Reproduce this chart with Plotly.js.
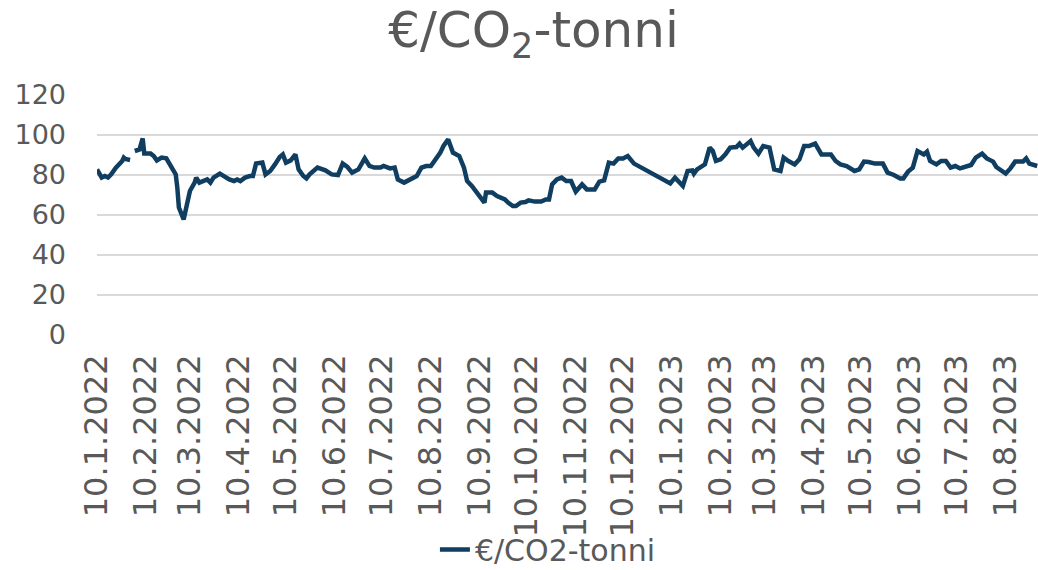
<!DOCTYPE html>
<html>
<head>
<meta charset="utf-8">
<script src="https://cdn.plot.ly/plotly-3.0.1.min.js"></script>
<style>html,body{margin:0;padding:0;background:#fff;}#chart{width:1038px;height:570px;}</style>
</head>
<body>
<div id="chart"></div>
<script>
const seriesName = "€/CO2-tonni";
const chartTitle = "€/CO<sub>2</sub>-tonni";

const dates = [
"2022-01-10","2022-01-13","2022-01-15","2022-01-17","2022-01-19","2022-01-22","2022-01-26","2022-01-27","2022-01-28","2022-01-31",
"2022-02-02","2022-02-03","2022-02-06","2022-02-08","2022-02-09","2022-02-13","2022-02-15","2022-02-17","2022-02-20","2022-02-23",
"2022-02-25","2022-03-01","2022-03-02","2022-03-03","2022-03-06","2022-03-08","2022-03-10","2022-03-13","2022-03-14","2022-03-16",
"2022-03-19","2022-03-21","2022-03-23","2022-03-25","2022-03-29","2022-04-01","2022-04-04","2022-04-07","2022-04-09","2022-04-11",
"2022-04-14","2022-04-17","2022-04-19","2022-04-21","2022-04-25","2022-04-27","2022-04-30","2022-05-03","2022-05-06","2022-05-08",
"2022-05-10","2022-05-13","2022-05-16","2022-05-18","2022-05-21","2022-05-23","2022-05-25","2022-05-30","2022-06-04","2022-06-08",
"2022-06-12","2022-06-15","2022-06-18","2022-06-21","2022-06-25","2022-06-29","2022-07-02","2022-07-05","2022-07-09","2022-07-11",
"2022-07-15","2022-07-18","2022-07-20","2022-07-24","2022-07-27","2022-08-01","2022-08-04","2022-08-07","2022-08-10","2022-08-13",
"2022-08-16","2022-08-18","2022-08-21","2022-08-24","2022-08-28","2022-08-31","2022-09-02","2022-09-05","2022-09-09","2022-09-13",
"2022-09-14","2022-09-18","2022-09-21","2022-09-26","2022-09-28","2022-10-01","2022-10-03","2022-10-06","2022-10-09","2022-10-11",
"2022-10-15","2022-10-19","2022-10-22","2022-10-24","2022-10-26","2022-10-29","2022-11-01","2022-11-04","2022-11-07","2022-11-10",
"2022-11-14","2022-11-17","2022-11-22","2022-11-25","2022-11-28","2022-12-01","2022-12-04","2022-12-07","2022-12-10","2022-12-13",
"2022-12-17","2023-01-09","2023-01-12","2023-01-17","2023-01-20","2023-01-23","2023-01-24","2023-01-26","2023-01-31","2023-02-03",
"2023-02-05","2023-02-07","2023-02-10","2023-02-13","2023-02-16","2023-02-20","2023-02-22","2023-02-24","2023-03-01","2023-03-03",
"2023-03-06","2023-03-09","2023-03-13","2023-03-16","2023-03-20","2023-03-22","2023-03-25","2023-03-29","2023-04-01","2023-04-04",
"2023-04-07","2023-04-11","2023-04-15","2023-04-21","2023-04-24","2023-04-27","2023-05-01","2023-05-06","2023-05-09","2023-05-12",
"2023-05-15","2023-05-19","2023-05-24","2023-05-27","2023-05-31","2023-06-04","2023-06-06","2023-06-09","2023-06-12","2023-06-15",
"2023-06-19","2023-06-21","2023-06-23","2023-06-27","2023-06-30","2023-07-03","2023-07-06","2023-07-09","2023-07-12","2023-07-16",
"2023-07-19","2023-07-22","2023-07-26","2023-07-29","2023-08-02","2023-08-04","2023-08-07","2023-08-10","2023-08-13","2023-08-16",
"2023-08-21","2023-08-23","2023-08-25","2023-08-30"
];

const prices = [
82.8,78.7,79.5,78.7,80.3,83.7,87,88.7,88,87.5,
null,92,92.8,98.3,90.8,90.8,89.5,87.3,88.7,88.3,
85.3,80.3,73.7,63.7,57.8,65.3,72,76.2,78.7,76.2,
77,77.8,76.2,78.7,80.7,79,77.8,77,77.8,77,
78.7,79.5,79.5,85.7,86.2,80.3,82,85.3,89,90.3,
86.2,87.3,90.3,82.8,79.5,78.3,80.3,83.7,82.3,80.3,
80,85.7,84,81.2,82.8,88.3,84.5,83.7,83.7,84.5,
83.3,83.7,77.8,76.2,77.3,79.5,83.7,84.5,84.5,87.8,
91.2,94.5,97.8,91.2,89.5,83.7,77,74.5,70.3,66.2,
71.2,71.2,69.5,67.8,66.2,64.5,64.5,66.2,66.5,67.3,
66.7,66.7,67.8,67.8,75.3,77.8,78.7,77,77,71.7,
75.3,72.8,72.8,76.7,77.3,86.2,85.7,88.3,88.3,89.5,
85.7,75.8,78.7,74.5,82,82.3,80.7,82.8,85.3,93.7,
92,87,87.8,90.3,93.7,94,95.7,93.7,97,93.7,
90.7,94.5,93.7,82.8,82,88.7,87,85.3,87.8,94.5,
94.5,95.7,90.3,90.3,87,85.3,84.5,82,82.8,86.7,
86.5,85.7,85.7,81.2,80,78.3,78.3,81.7,83.7,92,
90.3,91.7,87,85.3,87,87,83.7,84.5,83.3,84.5,
85,88.7,90.7,88.3,86.7,84,82.3,80.7,83.3,86.7,
86.7,88.3,85.7,84.5
];

const tickDates = ["2022-01-10","2022-02-10","2022-03-10","2022-04-10","2022-05-10","2022-06-10","2022-07-10","2022-08-10","2022-09-10","2022-10-10","2022-11-10","2022-12-10","2023-01-10","2023-02-10","2023-03-10","2023-04-10","2023-05-10","2023-06-10","2023-07-10","2023-08-10"];
const tickLabels = ["10.1.2022","10.2.2022","10.3.2022","10.4.2022","10.5.2022","10.6.2022","10.7.2022","10.8.2022","10.9.2022","10.10.2022","10.11.2022","10.12.2022","10.1.2023","10.2.2023","10.3.2023","10.4.2023","10.5.2023","10.6.2023","10.7.2023","10.8.2023"];
const yTicks = [0,20,40,60,80,100,120];

const FONT = "'DejaVu Sans', Verdana, sans-serif";
const GREY = "#595959";

Plotly.newPlot("chart", [{
  type: "scatter",
  mode: "lines",
  x: dates,
  y: prices,
  name: seriesName,
  connectgaps: false,
  line: {color: "#0f3e60", width: 4.5},
  hoverinfo: "x+y"
}], {
  width: 1038, height: 570,
  margin: {l: 97, r: 0, t: 95, b: 235, pad: 0, autoexpand: false},
  paper_bgcolor: "#ffffff",
  plot_bgcolor: "#ffffff",
  showlegend: true,
  title: {
    text: chartTitle,
    font: {family: FONT, size: 50, color: GREY},
    xref: "container", x: 0.514, xanchor: "center",
    yref: "container", y: 0.948, yanchor: "middle",
    automargin: false
  },
  xaxis: {
    type: "date",
    range: ["2022-01-10", "2023-08-30 12:00"],
    tickmode: "array",
    tickvals: tickDates,
    ticktext: tickLabels,
    tickangle: -90,
    tickfont: {family: FONT, size: 32, color: GREY},
    showgrid: false,
    zeroline: false,
    showline: false,
    ticks: "",
    ticklabelstandoff: 12,
    automargin: false
  },
  yaxis: {
    range: [0, 120],
    tickmode: "array",
    tickvals: yTicks,
    tickfont: {family: FONT, size: 27, color: GREY},
    showgrid: true,
    gridcolor: "#d9d9d9",
    gridwidth: 1.5,
    zeroline: false,
    showline: false,
    ticks: "",
    ticklabelstandoff: 30,
    fixedrange: true,
    automargin: false
  },
  legend: {
    orientation: "h",
    xref: "container", yref: "container",
    x: 0.419, xanchor: "left",
    y: 0.036, yanchor: "middle",
    font: {family: FONT, size: 30, color: GREY},
    bgcolor: "rgba(0,0,0,0)",
    tracegroupgap: 0
  }
}, {displayModeBar: false, staticPlot: true});
</script>
</body>
</html>
